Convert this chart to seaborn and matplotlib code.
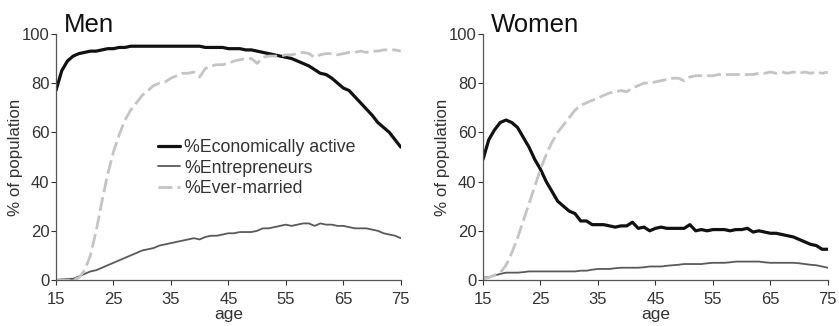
import matplotlib
matplotlib.use('Agg')
import matplotlib.pyplot as plt
import seaborn as sns
import pandas as pd

# data (ages 15..75)
ages = list(range(15, 76))

men_active = [77, 85, 89, 91, 92, 92.5, 93, 93, 93.5, 94, 94, 94.5, 94.5, 95, 95,
              95, 95, 95, 95, 95, 95, 95, 95, 95, 95, 95, 94.5, 94.5, 94.5, 94.5,
              94, 94, 94, 93.5, 93.5, 93, 92.5, 92, 91.5, 91, 90.5, 90, 89, 88, 87,
              85.5, 84, 83.5, 82, 80, 78, 77, 74.5, 72, 69.5, 67, 64, 62, 60, 57, 54]
men_entre = [0, 0.3, 0.5, 0.5, 1.5, 2.5, 3.5, 4, 5, 6, 7, 8, 9, 10, 11, 12, 12.5, 13,
             14, 14.5, 15, 15.5, 16, 16.5, 17, 16.5, 17.5, 18, 18, 18.5, 19, 19, 19.5,
             19.5, 19.5, 20, 21, 21, 21.5, 22, 22.5, 22, 22.5, 23, 23, 22, 23, 22.5,
             22.5, 22, 22, 21.5, 21, 21, 21, 20.5, 20, 19, 18.5, 18, 17]
men_married = [0, 0, 0, 0, 1, 4, 10, 20, 32, 43, 52, 59, 65, 69, 72, 75, 77, 79, 80,
               80.5, 82, 83, 84, 84, 84.5, 82.5, 86, 87, 87.5, 87.5, 88, 89, 89.5, 90,
               90, 88, 90.5, 91, 91, 91, 91.5, 91.5, 92, 92.5, 92, 90.5, 91.5, 92, 92,
               91.5, 92, 92.5, 92.5, 93, 92.5, 93, 93, 93.5, 93.5, 93.5, 93]

women_active = [49, 57, 61, 64, 65, 64, 62, 58, 54, 49, 45, 40, 36, 32, 30, 28, 27,
                24, 24, 22.5, 22.5, 22.5, 22, 21.5, 22, 22, 23.5, 21, 21.5, 20, 21,
                21.5, 21, 21, 21, 21, 22.5, 20, 20.5, 20, 20.5, 20.5, 20.5, 20, 20.5,
                20.5, 21, 19.5, 20, 19.5, 19, 19, 18.5, 18, 17.5, 16.5, 15.5, 14.5,
                14, 12.5, 12.5]
women_entre = [1, 1.2, 1.8, 2.5, 3, 3, 3, 3.2, 3.5, 3.5, 3.5, 3.5, 3.5, 3.5, 3.5, 3.5,
               3.5, 3.8, 3.8, 4.2, 4.5, 4.5, 4.5, 4.8, 5, 5, 5, 5, 5.2, 5.5, 5.5, 5.5,
               5.8, 6, 6.2, 6.5, 6.5, 6.5, 6.5, 6.8, 7, 7, 7, 7.2, 7.5, 7.5, 7.5, 7.5,
               7.5, 7.2, 7, 7, 7, 7, 7, 6.8, 6.5, 6.2, 6, 5.5, 5]
women_married = [0.5, 1, 2, 3, 6, 11, 17, 24, 31, 38, 45, 51, 56, 60, 63, 66, 69, 71,
                 72, 73, 74, 75, 76, 76.5, 77, 76.5, 78, 79, 80, 80, 80.5, 81, 81.5, 82,
                 82, 81, 82.5, 83, 83, 83, 83, 83.5, 83.5, 83.5, 83.5, 83.5, 83.5, 83.5,
                 84, 84, 84.5, 84, 84.5, 84, 84.5, 84, 84.5, 84, 84.5, 84, 84.5]

series_names = ['%Economically active', '%Entrepreneurs', '%Ever-married']

sns.set_theme(style='ticks')
plt.rcParams['font.family'] = ['Liberation Sans', 'DejaVu Sans']

styles = {
    '%Economically active': dict(color='#111111', lw=2.3, dashes=None),
    '%Entrepreneurs': dict(color='#5a5a5a', lw=1.3, dashes=None),
    '%Ever-married': dict(color='#c4c4c4', lw=2.0, dashes=(5, 1.8)),
}


def draw_panel(ax, title, values, show_legend):
    df = pd.DataFrame({'age': ages})
    for name, v in zip(series_names, values):
        df[name] = v
    long = df.melt(id_vars='age', var_name='series', value_name='pct')
    for name in series_names:
        st = styles[name]
        sns.lineplot(data=long[long['series'] == name], x='age', y='pct',
                     color=st['color'], lw=st['lw'], ax=ax, label=name,
                     legend=False)
        if st['dashes'] is not None:
            ax.lines[-1].set_dashes(st['dashes'])
    ax.set_xlim(15, 75)
    ax.set_ylim(0, 100)
    ax.set_xticks(range(15, 76, 10))
    ax.set_yticks(range(0, 101, 20))
    ax.tick_params(labelsize=12, colors='#333333', length=3.6, width=0.8)
    ax.tick_params(axis='x', pad=5)
    ax.tick_params(axis='y', pad=1)
    for s in ['left', 'bottom']:
        ax.spines[s].set_color('#555555')
        ax.spines[s].set_linewidth(0.9)
    sns.despine(ax=ax)
    ax.set_xlabel('age', fontsize=12.5, color='#333333', labelpad=0)
    ax.set_ylabel('% of population', fontsize=12.2, color='#333333', labelpad=-1)
    ax.text(0.023, 1.009, title, transform=ax.transAxes, fontsize=18.5,
            ha='left', va='baseline', color='#111111')
    if show_legend:
        ax.legend(loc='center left', bbox_to_anchor=(0.25, 0.455), frameon=False,
                  fontsize=12.8, handlelength=1.25, handletextpad=0.2,
                  labelspacing=0.2, labelcolor='#333333')


fig = plt.figure(figsize=(8.39, 3.26), dpi=100)
ax1 = fig.add_axes([0.0667, 0.141, 0.411, 0.755])
ax2 = fig.add_axes([0.5757, 0.141, 0.411, 0.755])

draw_panel(ax1, 'Men', [men_active, men_entre, men_married], True)
draw_panel(ax2, 'Women', [women_active, women_entre, women_married], False)

fig.savefig('out.png', dpi=100)
